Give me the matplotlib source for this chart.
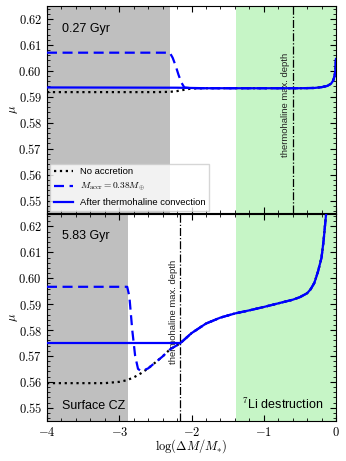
import matplotlib
matplotlib.use("Agg")
import matplotlib.pyplot as plt
from matplotlib.ticker import MultipleLocator, FuncFormatter

plt.rcParams['mathtext.fontset'] = 'cm'
plt.rcParams['font.family'] = ['Liberation Sans', 'DejaVu Sans']

# ---------------- data ----------------
# top panel (0.27 Gyr)
top_tail_x = [-1.8, -1.5, -1.0, -0.5, -0.3, -0.2, -0.12, -0.07, -0.04, -0.02, -0.01, 0.0]
top_tail_y = [0.5933, 0.5933, 0.5933, 0.5933, 0.5934, 0.5937, 0.5942, 0.5950, 0.5962, 0.5980, 0.5998, 0.6046]

top_noacc_x = [-4.0, -2.5, -2.3, -2.2, -2.1, -2.0] + top_tail_x
top_noacc_y = [0.5918, 0.5918, 0.5919, 0.5922, 0.5927, 0.5932] + top_tail_y

top_accr_x = [-4.0, -2.3, -2.26, -2.22, -2.18, -2.14, -2.1, -2.0] + top_tail_x
top_accr_y = [0.6070, 0.6070, 0.6050, 0.6020, 0.5985, 0.5955, 0.5936, 0.5933] + top_tail_y

top_thm_x = [-4.0, -2.2, -2.0] + top_tail_x
top_thm_y = [0.5936, 0.5935, 0.5934] + top_tail_y

# bottom panel (5.83 Gyr)
bot_tail_x = [-2.16, -2.0, -1.8, -1.6, -1.4, -1.2, -1.0, -0.8, -0.6, -0.5, -0.4,
              -0.35, -0.3, -0.25, -0.2, -0.17, -0.15, -0.13]
bot_tail_y = [0.5748, 0.5788, 0.5825, 0.5848, 0.5864, 0.5876, 0.5889, 0.5903, 0.5917,
              0.5927, 0.5942, 0.5958, 0.5982, 0.6025, 0.6080, 0.6150, 0.6210, 0.6270]

bot_noacc_x = [-4.0, -3.2, -3.0, -2.9, -2.8, -2.7, -2.6, -2.5, -2.4, -2.3] + bot_tail_x
bot_noacc_y = [0.5595, 0.5595, 0.5600, 0.5606, 0.5617, 0.5633, 0.5652, 0.5675, 0.5698,
               0.5725] + bot_tail_y

bot_accr_x = [-4.0, -2.89, -2.86, -2.82, -2.78, -2.74, -2.70, -2.65, -2.6, -2.5, -2.4,
              -2.3] + bot_tail_x
bot_accr_y = [0.5967, 0.5967, 0.5930, 0.5800, 0.5700, 0.5650, 0.5642, 0.5646, 0.5652,
              0.5675, 0.5698, 0.5725] + bot_tail_y

bot_thm_x = [-4.0, -2.16] + bot_tail_x
bot_thm_y = [0.5750, 0.5750] + bot_tail_y

# regions / markers
top_cz_edge = -2.30
bot_cz_edge = -2.88
li_edge = -1.38
top_thm_depth = -0.59
bot_thm_depth = -2.16

ages = ["0.27 Gyr", "5.83 Gyr"]
labels = ["No accretion", r"$M_{\rm accr}=0.38M_{\oplus}$", "After thermohaline convection"]

# ---------------- figure ----------------
fig = plt.figure(figsize=(3.46, 4.61), dpi=100)
left, right = 47 / 346, 336 / 346
ax1 = fig.add_axes([left, 1 - 213.5 / 461, right - left, (213.5 - 6) / 461])
ax2 = fig.add_axes([left, 1 - 420.7 / 461, right - left, (420.7 - 213.5) / 461], sharex=ax1)

blue = '#0000ff'

def style(ax):
    ax.set_xlim(-4, 0)
    ax.set_ylim(0.545, 0.625)
    ax.xaxis.set_major_locator(MultipleLocator(1))
    ax.xaxis.set_minor_locator(MultipleLocator(0.2))
    ax.yaxis.set_major_locator(MultipleLocator(0.01))
    ax.yaxis.set_minor_locator(MultipleLocator(0.002))
    ax.tick_params(which='both', direction='in', top=True, right=True, labelsize=9)
    ax.tick_params(which='major', length=4)
    ax.tick_params(which='minor', length=2)
    ax.yaxis.set_major_formatter(FuncFormatter(lambda v, p: r'$%.2f$' % v))
    ax.xaxis.set_major_formatter(FuncFormatter(lambda v, p: r'$%d$' % round(v)))
    ax.set_ylabel(r'$\mu$', fontsize=9)
    ax.yaxis.set_label_coords(-0.095, 0.5)

for ax, cz, thd, d in [(ax1, top_cz_edge, top_thm_depth,
                        (top_noacc_x, top_noacc_y, top_accr_x, top_accr_y, top_thm_x, top_thm_y)),
                       (ax2, bot_cz_edge, bot_thm_depth,
                        (bot_noacc_x, bot_noacc_y, bot_accr_x, bot_accr_y, bot_thm_x, bot_thm_y))]:
    ax.axvspan(-4, cz, color='#bfbfbf', lw=0, zorder=0)
    ax.axvspan(li_edge, 0, color='#c6f5c6', lw=0, zorder=0)
    ax.axvline(thd, color='black', ls='-.', lw=0.9, zorder=1)
    ax.plot(d[0], d[1], color='black', ls=':', lw=1.6, label=labels[0], zorder=3)
    ax.plot(d[2], d[3], color=blue, ls=(0, (4.5, 2.5)), lw=1.6, label=labels[1], zorder=4)
    ax.plot(d[4], d[5], color=blue, ls='-', lw=1.6, label=labels[2], zorder=5)
    style(ax)

plt.setp(ax1.get_xticklabels(), visible=False)
ax2.set_xlabel(r'$\log(\Delta M/M_{*})$', fontsize=9, labelpad=-1)

ax1.text(-3.79, 0.6150, ages[0], fontsize=9)
ax2.text(-3.79, 0.6150, ages[1], fontsize=9)
ax2.text(-3.79, 0.5497, "Surface CZ", fontsize=9)
ax2.text(-0.18, 0.5497, r"$^{7}$Li destruction", fontsize=9, ha='right')

ax1.text(top_thm_depth - 0.04, 0.587, "thermohaline max. depth", rotation=90,
         fontsize=6.8, ha='right', va='center', color='#222222')
ax2.text(bot_thm_depth - 0.02, 0.587, "thermohaline max. depth", rotation=90,
         fontsize=6.8, ha='right', va='center', color='#222222')

leg = ax1.legend(loc='lower left', fontsize=6.8, handlelength=2.0, borderaxespad=0.3,
                 fancybox=False, framealpha=0.8, edgecolor='#cccccc')

fig.savefig('out.png', dpi=100)
